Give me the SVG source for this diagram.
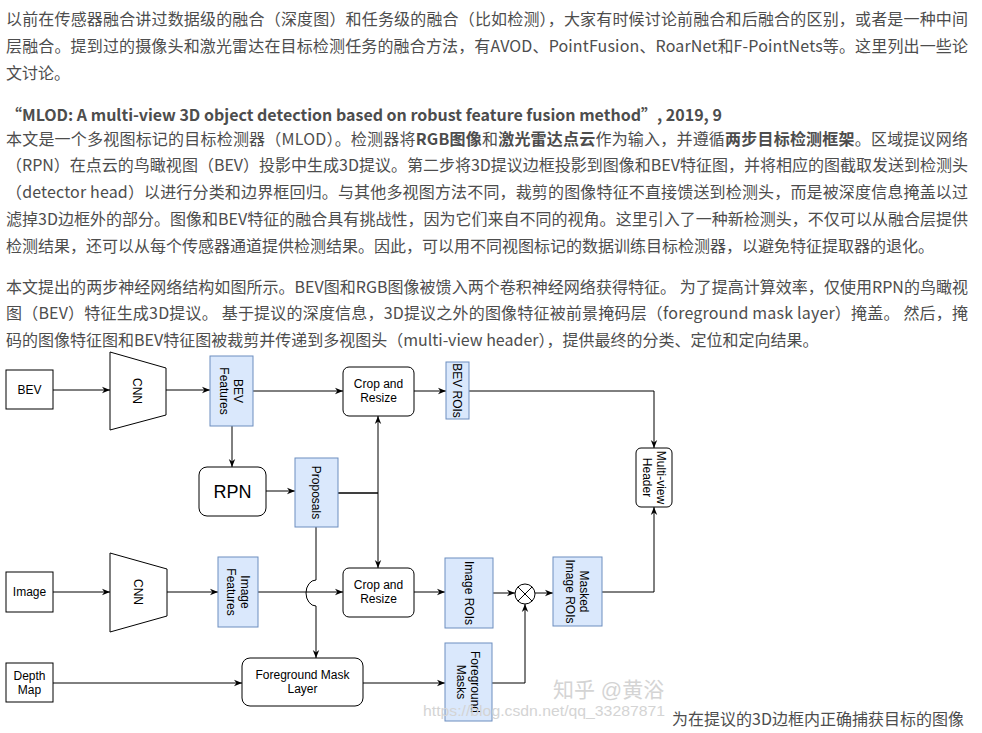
<svg xmlns="http://www.w3.org/2000/svg" width="982" height="733" viewBox="0 0 982 733" xml:lang="zh-CN">
<style>
.p{font-family:"Noto Sans CJK SC","Noto Sans",sans-serif;font-size:16px;fill:#4d4d4d}
.b{font-weight:bold}
.t{font-family:"Noto Sans CJK SC","Noto Sans",sans-serif;font-size:16px;font-weight:bold;fill:#4d4d4d}
.n{fill:#fff;stroke:#000;stroke-width:1}
.f{fill:#dae8fc;stroke:#6c8ebf;stroke-width:1}
.l{font-family:"Liberation Sans",Arial,sans-serif;font-size:12px;fill:#000;text-anchor:middle}
.e{fill:none;stroke:#000;stroke-width:1}
.a{marker-end:url(#arr)}
.wm{font-family:"Liberation Sans","Noto Sans CJK SC",sans-serif;fill:#d4d4d4}
</style>
<defs>
<marker id="arr" viewBox="0 0 10 10" refX="10" refY="5" markerWidth="8" markerHeight="8" markerUnits="userSpaceOnUse" orient="auto">
<path d="M0,1 L10,5 L0,9 L3,5 z" fill="#000"/>
</marker>
</defs>
<rect width="982" height="733" fill="#fff"/>
<g id="page-text">
<text class="p" x="6" y="25" textLength="962" lengthAdjust="spacing">以前在传感器融合讲过数据级的融合（深度图）和任务级的融合（比如检测），大家有时候讨论前融合和后融合的区别，或者是一种中间</text>
<text class="p" x="6" y="52" textLength="962" lengthAdjust="spacing">层融合。提到过的摄像头和激光雷达在目标检测任务的融合方法，有AVOD、PointFusion、RoarNet和F-PointNets等。这里列出一些论</text>
<text class="p" x="6" y="79">文讨论。</text>
<text class="t" x="6" y="121">“MLOD: A multi-view 3D object detection based on robust feature fusion method”, 2019, 9</text>
<text class="p" x="6" y="145" textLength="962" lengthAdjust="spacing">本文是一个多视图标记的目标检测器（MLOD）。检测器将<tspan class="b">RGB图像</tspan>和<tspan class="b">激光雷达点云</tspan>作为输入，并遵循<tspan class="b">两步目标检测框架</tspan>。区域提议网络</text>
<text class="p" x="6" y="171" textLength="962" lengthAdjust="spacing">（RPN）在点云的鸟瞰视图（BEV）投影中生成3D提议。第二步将3D提议边框投影到图像和BEV特征图，并将相应的图截取发送到检测头</text>
<text class="p" x="6" y="198" textLength="962" lengthAdjust="spacing">（detector head）以进行分类和边界框回归。与其他多视图方法不同，裁剪的图像特征不直接馈送到检测头，而是被深度信息掩盖以过</text>
<text class="p" x="6" y="225" textLength="962" lengthAdjust="spacing">滤掉3D边框外的部分。图像和BEV特征的融合具有挑战性，因为它们来自不同的视角。这里引入了一种新检测头，不仅可以从融合层提供</text>
<text class="p" x="6" y="252">检测结果，还可以从每个传感器通道提供检测结果。因此，可以用不同视图标记的数据训练目标检测器，以避免特征提取器的退化。</text>
<text class="p" x="6" y="293" textLength="962" lengthAdjust="spacing">本文提出的两步神经网络结构如图所示。BEV图和RGB图像被馈入两个卷积神经网络获得特征。 为了提高计算效率，仅使用RPN的鸟瞰视</text>
<text class="p" x="6" y="319" textLength="962" lengthAdjust="spacing">图（BEV）特征生成3D提议。 基于提议的深度信息，3D提议之外的图像特征被前景掩码层（foreground mask layer）掩盖。 然后，掩</text>
<text class="p" x="6" y="346">码的图像特征图和BEV特征图被裁剪并传递到多视图头（multi-view header），提供最终的分类、定位和定向结果。</text>
</g>
<g id="connectors">
<path class="e a" d="M53,390 H110"/>
<path class="e a" d="M166,390 H210"/>
<path class="e a" d="M253,391 H343"/>
<path class="e a" d="M414,391 H446"/>
<path class="e a" d="M469,391 H654 V448"/>
<path class="e a" d="M232,426 V467"/>
<path class="e a" d="M266,491 H295"/>
<path class="e a" d="M338,493 H378 V416"/>
<path class="e a" d="M338,493 H378 V568"/>
<path class="e a" d="M316,527 V580 A10 13 0 0 0 316,606 V658"/>
<path class="e a" d="M53,592 H110"/>
<path class="e a" d="M167,592 H218"/>
<path class="e a" d="M258,592 H343"/>
<path class="e a" d="M414,592 H445"/>
<path class="e a" d="M493,593 H515"/>
<path class="e a" d="M535,593 H553"/>
<path class="e a" d="M602,592 H654 V507"/>
<path class="e a" d="M53,683 H242"/>
<path class="e a" d="M363,683 H445"/>
<path class="e a" d="M492,683 H525 V604"/>
</g>
<g id="bev">
<rect class="n" x="6" y="370" width="47" height="39"/>
<text class="l" x="29.5" y="394">BEV</text>
</g>
<g id="cnn1">
<polygon class="n" points="110,352 166,368 166,415 110,430"/>
<text class="l" transform="translate(137,391) rotate(90)" y="4.3">CNN</text>
</g>
<g id="bev-features">
<rect class="f" x="210" y="356" width="43" height="70"/>
<text class="l" transform="translate(231.5,391) rotate(90)"><tspan x="0" y="-2.7">BEV</tspan><tspan x="0" y="11.3">Features</tspan></text>
</g>
<g id="crop1">
<rect class="n" x="343" y="367" width="71" height="49" rx="6"/>
<text class="l"><tspan x="378.5" y="388">Crop and</tspan><tspan x="378.5" y="402">Resize</tspan></text>
</g>
<g id="bev-rois">
<rect class="f" x="446" y="362" width="23" height="57"/>
<text class="l" transform="translate(457.5,390.5) rotate(90)" y="4.3">BEV ROIs</text>
</g>
<g id="rpn">
<rect class="n" x="199" y="467" width="67" height="49" rx="8"/>
<text class="l" x="232.5" y="498" style="font-size:18px">RPN</text>
</g>
<g id="proposals">
<rect class="f" x="295" y="458" width="43" height="69"/>
<text class="l" transform="translate(316.5,492.5) rotate(90)" y="4.3">Proposals</text>
</g>
<g id="multi-view-header">
<rect class="n" x="636" y="448" width="36" height="59" rx="5"/>
<text class="l" transform="translate(654,477.5) rotate(90)"><tspan x="0" y="-2.7">Multi-view</tspan><tspan x="0" y="11.3">Header</tspan></text>
</g>
<g id="image">
<rect class="n" x="6" y="572" width="47" height="40"/>
<text class="l" x="29.5" y="596">Image</text>
</g>
<g id="cnn2">
<polygon class="n" points="110,553 167,569 167,616 110,632"/>
<text class="l" transform="translate(138,592) rotate(90)" y="4.3">CNN</text>
</g>
<g id="image-features">
<rect class="f" x="218" y="557" width="40" height="70"/>
<text class="l" transform="translate(238,592) rotate(90)"><tspan x="0" y="-2.7">Image</tspan><tspan x="0" y="11.3">Features</tspan></text>
</g>
<g id="crop2">
<rect class="n" x="343" y="568" width="71" height="49" rx="6"/>
<text class="l"><tspan x="378.5" y="589">Crop and</tspan><tspan x="378.5" y="603">Resize</tspan></text>
</g>
<g id="image-rois">
<rect class="f" x="445" y="558" width="48" height="70"/>
<text class="l" transform="translate(469,593) rotate(90)" y="4.3">Image ROIs</text>
</g>
<g id="multiply">
<circle class="n" cx="525" cy="594" r="10"/>
<path class="e" d="M517.9,586.9 L532.1,601.1 M532.1,586.9 L517.9,601.1"/>
</g>
<g id="masked-image-rois">
<rect class="f" x="553" y="557" width="49" height="69"/>
<text class="l" transform="translate(577.5,591.5) rotate(90)"><tspan x="0" y="-2.7">Masked</tspan><tspan x="0" y="11.3">Image ROIs</tspan></text>
</g>
<g id="depth-map">
<rect class="n" x="6" y="663" width="47" height="39"/>
<text class="l"><tspan x="29.5" y="680">Depth</tspan><tspan x="29.5" y="694">Map</tspan></text>
</g>
<g id="foreground-mask-layer">
<rect class="n" x="242" y="658" width="121" height="48" rx="8"/>
<text class="l"><tspan x="302.5" y="679">Foreground Mask</tspan><tspan x="302.5" y="693">Layer</tspan></text>
</g>
<g id="foreground-masks">
<rect class="f" x="445" y="643" width="47" height="78"/>
<text class="l" transform="translate(468.5,682) rotate(90)"><tspan x="0" y="-2.7">Foreground</tspan><tspan x="0" y="11.3">Masks</tspan></text>
</g>
<g id="watermarks">
<text class="wm" x="553" y="697" style="font-size:21px">知乎 @黄浴</text>
<text class="wm" x="423" y="716" style="font-size:15px" textLength="242" lengthAdjust="spacingAndGlyphs">https://blog.csdn.net/qq_33287871</text>
</g>
<g id="caption">
<text class="p" x="672" y="725">为在提议的3D边框内正确捕获目标的图像</text>
</g>
</svg>
